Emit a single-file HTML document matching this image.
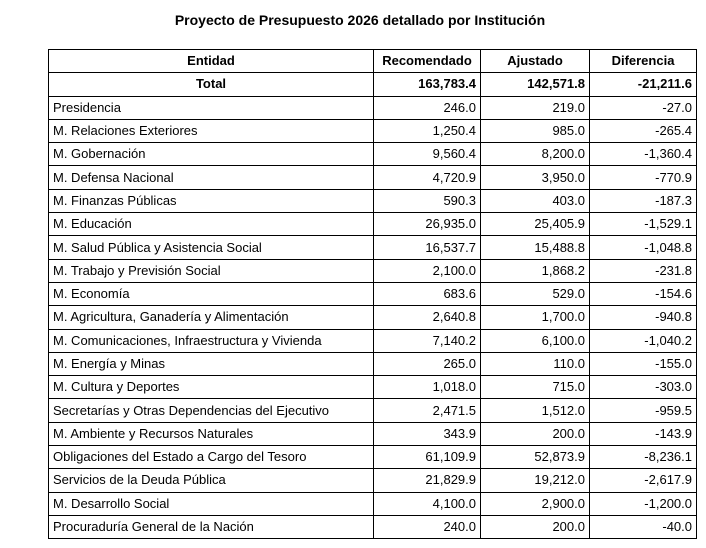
<!DOCTYPE html>
<html><head><meta charset="utf-8"><style>
body{margin:0;width:706px;height:548px;background:#fff;font-family:"Liberation Sans",sans-serif;color:#000;position:relative;overflow:hidden}
#title{position:absolute;left:0;width:720px;top:12px;text-align:center;font-weight:bold;font-size:14px}
table{position:absolute;left:48px;top:49px;border-collapse:collapse;table-layout:fixed;font-size:13px}
td,th{border:1px solid #000;height:22.3px;padding:0 4px;line-height:22px;white-space:nowrap;overflow:hidden}
th{font-weight:bold;text-align:center}
td.n{text-align:right}
tr.tot td{font-weight:bold}
</style></head><body>
<div id="title">Proyecto de Presupuesto 2026 detallado por Institución</div>
<table>
<colgroup><col style="width:325px"><col style="width:107px"><col style="width:109px"><col style="width:107px"></colgroup>
<tbody id="tb">
<tr><th>Entidad</th><th>Recomendado</th><th>Ajustado</th><th>Diferencia</th></tr>
</tbody></table>
<script>
const entities=["Total","Presidencia","M. Relaciones Exteriores","M. Gobernación","M. Defensa Nacional","M. Finanzas Públicas","M. Educación","M. Salud Pública y Asistencia Social","M. Trabajo y Previsión Social","M. Economía","M. Agricultura, Ganadería y Alimentación","M. Comunicaciones, Infraestructura y Vivienda","M. Energía y Minas","M. Cultura y Deportes","Secretarías y Otras Dependencias del Ejecutivo","M. Ambiente y Recursos Naturales","Obligaciones del Estado a Cargo del Tesoro","Servicios de la Deuda Pública","M. Desarrollo Social","Procuraduría General de la Nación"];
const recomendado=[163783.4,246.0,1250.4,9560.4,4720.9,590.3,26935.0,16537.7,2100.0,683.6,2640.8,7140.2,265.0,1018.0,2471.5,343.9,61109.9,21829.9,4100.0,240.0];
const ajustado=[142571.8,219.0,985.0,8200.0,3950.0,403.0,25405.9,15488.8,1868.2,529.0,1700.0,6100.0,110.0,715.0,1512.0,200.0,52873.9,19212.0,2900.0,200.0];
const diferencia=[-21211.6,-27.0,-265.4,-1360.4,-770.9,-187.3,-1529.1,-1048.8,-231.8,-154.6,-940.8,-1040.2,-155.0,-303.0,-959.5,-143.9,-8236.1,-2617.9,-1200.0,-40.0];
const f=v=>v.toLocaleString('en-US',{minimumFractionDigits:1,maximumFractionDigits:1});
const tb=document.getElementById('tb');
entities.forEach((e,i)=>{
 const tr=document.createElement('tr');
 
 
 if(i===0) tr.className='tot';
 const c0=document.createElement('td');c0.textContent=e;if(i===0)c0.style.textAlign='center';
 tr.appendChild(c0);
 [recomendado[i],ajustado[i],diferencia[i]].forEach(v=>{const c=document.createElement('td');c.className='n';c.textContent=f(v);tr.appendChild(c);});
 tb.appendChild(tr);
});
</script>
</body></html>
